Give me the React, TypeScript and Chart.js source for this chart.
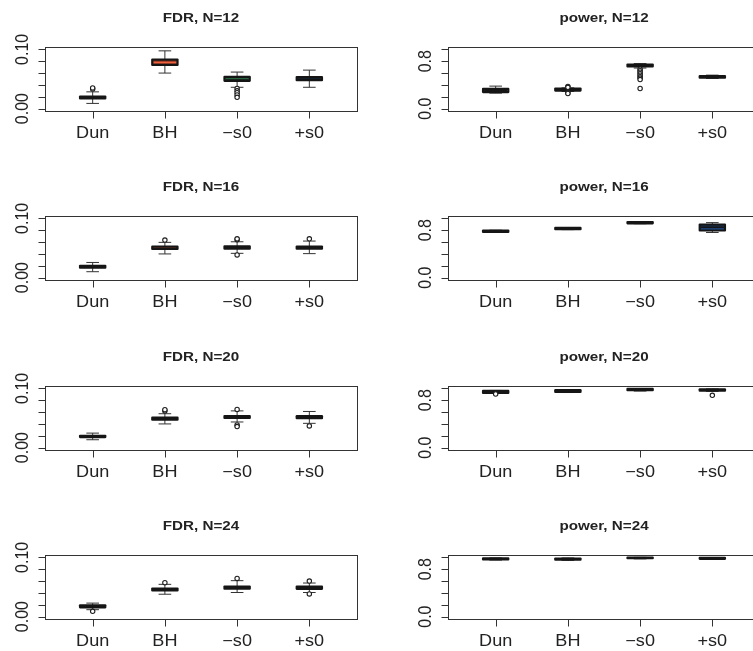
import React, { useEffect, useRef } from 'react';
import { Chart, registerables } from 'chart.js';

Chart.register(...registerables);

// ---- data -------------------------------------------------------------
const METHODS = ['Dun', 'BH', '\u2212s0', '+s0'];
const SAMPLE_SIZES = [12, 16, 20, 24];

// box fills and median colours per method
const FILL_COLORS = ['#8a8a8a', '#a8412b', '#2e8050', '#1f4e8f'];
const MEDIAN_COLORS = ['#151515', '#f0603a', '#151515', '#151515'];

const FDR_TICKS = [0, 0.02, 0.04, 0.06, 0.08, 0.1];
const FDR_TICK_LABELS = ['0.00', '', '', '', '', '0.10'];
const POWER_TICKS = [0, 0.2, 0.4, 0.6, 0.8, 1.0];
const POWER_TICK_LABELS = ['0.0', '', '', '', '0.8', ''];

// [lower whisker, Q1, median, Q3, upper whisker] per method
const fdrN12 = [
  [0.0088, 0.0172, 0.019, 0.0205, 0.0283],
  [0.06, 0.0738, 0.0778, 0.0828, 0.0975],
  [0.036, 0.047, 0.0485, 0.0535, 0.0617],
  [0.036, 0.048, 0.0505, 0.0533, 0.065],
];
const fdrN12Outliers = [[0.033, 0.035], [], [0.034, 0.03, 0.027, 0.023, 0.019], []];

const powerN12 = [
  [0.262, 0.28, 0.318, 0.333, 0.38],
  [0.29, 0.305, 0.32, 0.338, 0.35],
  [0.685, 0.712, 0.73, 0.745, 0.76],
  [0.51, 0.522, 0.537, 0.55, 0.565],
];
const powerN12Outliers = [
  [],
  [0.375, 0.36, 0.27, 0.255],
  [0.665, 0.64, 0.615, 0.59, 0.565, 0.54, 0.515, 0.49, 0.34],
  [],
];

const fdrN16 = [
  [0.01, 0.0167, 0.0183, 0.02, 0.0256],
  [0.04, 0.0483, 0.05, 0.0522, 0.0595],
  [0.041, 0.0488, 0.0505, 0.0528, 0.0605],
  [0.0405, 0.0488, 0.0505, 0.0525, 0.0617],
];
const fdrN16Outliers = [[], [0.0633], [0.064, 0.0655, 0.0383], [0.0655]];

const powerN16 = [
  [0.765, 0.772, 0.783, 0.795, 0.8],
  [0.81, 0.817, 0.828, 0.838, 0.845],
  [0.91, 0.917, 0.928, 0.938, 0.945],
  [0.762, 0.795, 0.85, 0.895, 0.928],
];
const powerN16Outliers = [[], [], [], []];

const fdrN20 = [
  [0.0133, 0.0178, 0.0188, 0.02, 0.0245],
  [0.04, 0.0472, 0.049, 0.0505, 0.0572],
  [0.0433, 0.05, 0.0517, 0.0533, 0.062],
  [0.041, 0.0497, 0.0513, 0.053, 0.061],
];
const fdrN20Outliers = [[], [0.062, 0.064], [0.0645, 0.0383, 0.0355], [0.0367]];

const powerN20 = [
  [0.915, 0.923, 0.94, 0.957, 0.965],
  [0.93, 0.94, 0.956, 0.97, 0.98],
  [0.955, 0.97, 0.98, 0.99, 0.995],
  [0.95, 0.96, 0.973, 0.985, 0.99],
];
const powerN20Outliers = [[0.905], [], [], [0.883]];

const fdrN24 = [
  [0.0117, 0.0157, 0.0173, 0.019, 0.0228],
  [0.0378, 0.0442, 0.0458, 0.0475, 0.0545],
  [0.0407, 0.0472, 0.049, 0.0508, 0.0607],
  [0.0407, 0.047, 0.0487, 0.0505, 0.0567],
];
const fdrN24Outliers = [[0.009], [0.0573], [0.0645], [0.06, 0.0383]];

const powerN24 = [
  [0.955, 0.965, 0.973, 0.982, 0.99],
  [0.95, 0.96, 0.97, 0.98, 0.99],
  [0.975, 0.985, 0.992, 0.998, 1.0],
  [0.965, 0.975, 0.983, 0.99, 0.998],
];
const powerN24Outliers = [[], [], [], []];

// ---- layout -----------------------------------------------------------
const ROW_TOPS = [0, 169, 339, 508];
const PANEL_H = 170;
const COLS = [
  { left: 0, width: 376, padLeft: 45, padRight: 19 },
  { left: 376, width: 400, padLeft: 72, padRight: 16 },
];
const PAD_TOP = 47;
const PAD_BOTTOM = 59;

const INK = '#222222';
const LINE = '#333333';
const TEXT_STRETCH = 1.13;
const TITLE_STRETCH = 1.17;
const TICK_FONT = '16px "Liberation Sans", Arial, Helvetica, sans-serif';
const TITLE_FONT = 'bold 13px "Liberation Sans", Arial, Helvetica, sans-serif';

type PanelSpec = {
  title: string;
  stats: number[][];
  outliers: number[][];
  ticks: number[];
  tickLabels: string[];
  yMin: number;
  yMax: number;
  col: number;
  row: number;
};

function stretchedText(
  ctx: CanvasRenderingContext2D,
  text: string,
  x: number,
  y: number,
  font: string,
  sx: number,
  rotate: boolean
) {
  ctx.save();
  ctx.translate(x, y);
  ctx.scale(sx, 1);
  if (rotate) ctx.rotate(-Math.PI / 2);
  ctx.font = font;
  ctx.fillStyle = INK;
  ctx.textAlign = 'center';
  ctx.textBaseline = 'alphabetic';
  ctx.fillText(text, 0, 0);
  ctx.restore();
}

function BoxPanel({ spec }: { spec: PanelSpec }) {
  const ref = useRef<HTMLCanvasElement | null>(null);
  const col = COLS[spec.col];

  useEffect(() => {
    const canvas = ref.current;
    if (!canvas) return;
    const BAR_INDEX = 1;

    const decor = {
      id: 'boxplotDecor',
      beforeDatasetsDraw(chart: any) {
        const ctx = chart.ctx as CanvasRenderingContext2D;
        const ys = chart.scales.y;
        const bars = chart.getDatasetMeta(BAR_INDEX).data;
        ctx.save();
        ctx.strokeStyle = LINE;
        ctx.lineWidth = 1;
        spec.stats.forEach((s, i) => {
          const el = bars[i];
          const x = el.x;
          const half = el.width / 4;
          const yLo = ys.getPixelForValue(s[0]);
          const yQ1 = ys.getPixelForValue(s[1]);
          const yQ3 = ys.getPixelForValue(s[3]);
          const yHi = ys.getPixelForValue(s[4]);
          ctx.beginPath();
          ctx.moveTo(x, yQ3);
          ctx.lineTo(x, yHi);
          ctx.moveTo(x, yQ1);
          ctx.lineTo(x, yLo);
          ctx.moveTo(x - half, yHi);
          ctx.lineTo(x + half, yHi);
          ctx.moveTo(x - half, yLo);
          ctx.lineTo(x + half, yLo);
          ctx.stroke();
        });
        ctx.restore();
      },
      afterDatasetDraw(chart: any, args: any) {
        if (args.index !== BAR_INDEX) return;
        const ctx = chart.ctx as CanvasRenderingContext2D;
        const ys = chart.scales.y;
        const bars = chart.getDatasetMeta(BAR_INDEX).data;
        const lw = 2.2;
        spec.stats.forEach((s, i) => {
          const el = bars[i];
          const x0 = el.x - el.width / 2;
          const w = el.width;
          const yQ1 = ys.getPixelForValue(s[1]);
          const yMed = ys.getPixelForValue(s[2]);
          const yQ3 = ys.getPixelForValue(s[3]);
          // median, kept inside the box interior
          const innerTop = yQ3 + lw / 2;
          const innerH = yQ1 - yQ3 - lw;
          if (innerH > 0) {
            ctx.save();
            ctx.beginPath();
            ctx.rect(x0 + lw / 2, innerTop, w - lw, innerH);
            ctx.clip();
            ctx.strokeStyle = MEDIAN_COLORS[i];
            ctx.lineWidth = i === 1 ? 1.3 : 2.2;
            ctx.beginPath();
            ctx.moveTo(x0, yMed);
            ctx.lineTo(x0 + w, yMed);
            ctx.stroke();
            ctx.restore();
          }
          // box outline
          ctx.save();
          ctx.strokeStyle = '#151515';
          ctx.lineWidth = lw;
          ctx.lineJoin = 'round';
          ctx.beginPath();
          ctx.rect(x0, yQ3, w, yQ1 - yQ3);
          ctx.stroke();
          ctx.restore();
        });
      },
      afterDraw(chart: any) {
        const ctx = chart.ctx as CanvasRenderingContext2D;
        const area = chart.chartArea;
        const xs = chart.scales.x;
        const ys = chart.scales.y;
        ctx.save();
        ctx.strokeStyle = LINE;
        ctx.lineWidth = 1;
        // frame
        ctx.strokeRect(
          Math.round(area.left) + 0.5,
          Math.round(area.top) + 0.5,
          Math.round(area.right - area.left),
          Math.round(area.bottom - area.top)
        );
        // y axis
        const yFirst = Math.round(ys.getPixelForValue(spec.ticks[0])) + 0.5;
        const yLast = Math.round(ys.getPixelForValue(spec.ticks[spec.ticks.length - 1])) + 0.5;
        const ax = Math.round(area.left) + 0.5;
        ctx.beginPath();
        ctx.moveTo(ax, yFirst);
        ctx.lineTo(ax, yLast);
        spec.ticks.forEach((t) => {
          const y = Math.round(ys.getPixelForValue(t)) + 0.5;
          ctx.moveTo(ax - 7, y);
          ctx.lineTo(ax, y);
        });
        // x axis ticks
        const bx = Math.round(area.bottom) + 0.5;
        METHODS.forEach((_, i) => {
          const x = Math.round(xs.getPixelForValue(i + 1)) + 0.5;
          ctx.moveTo(x, bx);
          ctx.lineTo(x, bx + 7);
        });
        ctx.stroke();
        ctx.restore();

        spec.ticks.forEach((t, k) => {
          const label = spec.tickLabels[k];
          if (!label) return;
          stretchedText(ctx, label, area.left - 17, ys.getPixelForValue(t), TICK_FONT, TEXT_STRETCH, true);
        });
        METHODS.forEach((m, i) => {
          stretchedText(ctx, m, xs.getPixelForValue(i + 1), area.bottom + 27, TICK_FONT, TEXT_STRETCH, false);
        });
        stretchedText(
          ctx,
          spec.title,
          (area.left + area.right) / 2,
          area.top - 25,
          TITLE_FONT,
          TITLE_STRETCH,
          false
        );
      },
    };

    const outlierPoints: { x: number; y: number }[] = [];
    spec.outliers.forEach((arr, i) => arr.forEach((v) => outlierPoints.push({ x: i + 1, y: v })));

    const chart = new Chart(canvas, {
      type: 'bar',
      data: {
        datasets: [
          {
            type: 'scatter',
            data: outlierPoints,
            pointRadius: 2.2,
            pointBorderWidth: 1.1,
            pointBorderColor: '#1e1e1e',
            pointBackgroundColor: '#ffffff',
            pointStyle: 'circle',
          } as any,
          {
            type: 'bar',
            data: spec.stats.map((s, i) => ({ x: i + 1, y: [s[1], s[3]] })),
            backgroundColor: FILL_COLORS,
            borderWidth: 0,
            barPercentage: 0.53,
            categoryPercentage: 1,
          } as any,
        ],
      },
      options: {
        responsive: false,
        animation: false,
        events: [],
        layout: {
          padding: { left: col.padLeft, right: col.padRight, top: PAD_TOP, bottom: PAD_BOTTOM },
        },
        plugins: {
          legend: { display: false },
          tooltip: { enabled: false },
          title: { display: false },
        },
        scales: {
          x: { type: 'linear', min: 0.34, max: 4.66, offset: false, display: false },
          y: { type: 'linear', min: spec.yMin, max: spec.yMax, display: false },
        },
      },
      plugins: [decor],
    } as any);

    return () => chart.destroy();
  }, [spec]);

  return (
    <canvas
      ref={ref}
      width={col.width}
      height={PANEL_H}
      style={{
        position: 'absolute',
        left: col.left,
        top: ROW_TOPS[spec.row],
        width: col.width,
        height: PANEL_H,
      }}
    />
  );
}

const FDR_SETS = [
  [fdrN12, fdrN12Outliers],
  [fdrN16, fdrN16Outliers],
  [fdrN20, fdrN20Outliers],
  [fdrN24, fdrN24Outliers],
];
const POWER_SETS = [
  [powerN12, powerN12Outliers],
  [powerN16, powerN16Outliers],
  [powerN20, powerN20Outliers],
  [powerN24, powerN24Outliers],
];

const PANELS: PanelSpec[] = [];
SAMPLE_SIZES.forEach((n, r) => {
  PANELS.push({
    title: `FDR, N=${n}`,
    stats: FDR_SETS[r][0],
    outliers: FDR_SETS[r][1],
    ticks: FDR_TICKS,
    tickLabels: FDR_TICK_LABELS,
    yMin: -0.004,
    yMax: 0.104,
    col: 0,
    row: r,
  });
  PANELS.push({
    title: `power, N=${n}`,
    stats: POWER_SETS[r][0],
    outliers: POWER_SETS[r][1],
    ticks: POWER_TICKS,
    tickLabels: POWER_TICK_LABELS,
    yMin: -0.04,
    yMax: 1.04,
    col: 1,
    row: r,
  });
});

export default function App() {
  return (
    <div
      style={{
        position: 'absolute',
        left: 0,
        top: 0,
        width: 753,
        height: 651,
        overflow: 'hidden',
        background: '#ffffff',
      }}
    >
      {PANELS.map((p) => (
        <BoxPanel key={p.title} spec={p} />
      ))}
    </div>
  );
}
